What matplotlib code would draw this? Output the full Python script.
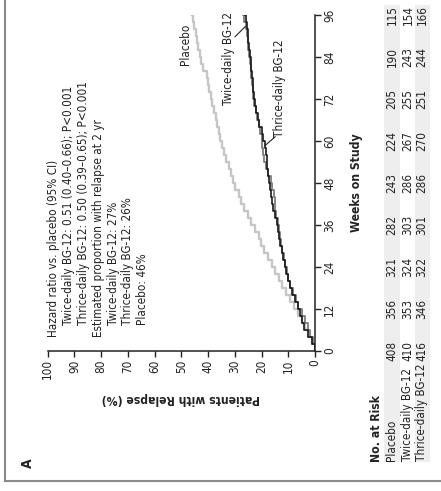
import matplotlib
matplotlib.use('agg')
import matplotlib.pyplot as plt
from matplotlib.patches import Rectangle
from matplotlib.lines import Line2D

plt.rcParams['font.family'] = ['DejaVu Sans']
plt.rcParams['font.stretch'] = 'condensed'

# weeks on study (x of the original chart)
weeks = [0, 2, 4, 6, 8, 10, 12, 14, 16, 18, 20, 22, 24, 26, 28, 30, 32, 34, 36, 38, 40, 42, 44, 46, 48,
         50, 52, 54, 56, 58, 60, 62, 64, 66, 68, 70, 72, 74, 76, 78, 80, 82, 84, 86, 88, 90, 92, 94, 96]
placebo = [0, 1.0, 2.5, 3.8, 5.0, 6.5, 8.0, 9.5, 11.0, 12.2, 13.6, 14.8, 16.2, 17.5, 19.0, 20.2, 21.0, 22.3, 24.0, 25.2,
           26.5, 27.8, 28.6, 29.8, 30.6, 31.5, 32.3, 33.2, 34.0, 34.8, 35.5, 36.0, 36.6, 37.2, 37.8, 38.4, 39.0, 39.5,
           40.0, 40.4, 41.8, 42.6, 43.0, 43.6, 44.1, 44.6, 45.2, 45.7, 46.2]
twice = [0, 0.8, 2.0, 2.8, 3.8, 5.0, 6.2, 7.2, 8.3, 9.3, 10.0, 10.6, 11.2, 11.7, 12.3, 12.8, 13.2, 13.6, 14.0, 14.5,
         14.9, 15.0, 15.4, 15.9, 16.5, 17.4, 18.3, 19.0, 19.4, 19.7, 20.0, 20.4, 21.0, 21.6, 22.2, 22.8, 23.1, 23.3,
         23.6, 23.8, 24.0, 24.3, 24.6, 24.9, 25.2, 25.6, 26.0, 26.5, 26.9]
thrice = [0, 1.0, 2.6, 4.0, 4.8, 5.6, 6.5, 7.4, 8.5, 9.4, 10.2, 10.8, 11.4, 11.9, 12.5, 13.0, 13.4, 13.9, 14.4, 15.0,
          15.6, 16.1, 16.4, 16.8, 17.2, 17.5, 17.8, 18.1, 18.4, 18.8, 19.3, 20.0, 20.8, 21.5, 22.0, 22.5, 22.9, 23.1,
          23.3, 23.6, 23.8, 24.0, 24.3, 24.6, 24.9, 25.2, 25.5, 25.8, 26.1]

risk_weeks = [0, 12, 24, 36, 48, 60, 72, 84, 96]
risk_rows = ['Placebo', 'Twice-daily BG-12', 'Thrice-daily BG-12']
risk_placebo = [408, 356, 321, 282, 243, 224, 205, 190, 115]
risk_twice = [410, 353, 324, 303, 286, 267, 255, 243, 154]
risk_thrice = [416, 346, 322, 301, 286, 270, 251, 244, 166]

info_lines = ['Hazard ratio vs. placebo (95% CI)',
              'Twice-daily BG-12: 0.51 (0.40\u20130.66); P<0.001',
              'Thrice-daily BG-12: 0.50 (0.39\u20130.65); P<0.001',
              'Estimated proportion with relapse at 2 yr',
              'Twice-daily BG-12: 27%',
              'Thrice-daily BG-12: 26%',
              'Placebo: 46%']

W, H = 441, 491
tc = '#222222'
fs = 8.4
fig = plt.figure(figsize=(W / 100, H / 100), dpi=100)

def fx(px):
    return px / W

def fy(py):
    return 1 - py / H

# chart drawn turned a quarter turn: percent runs right-to-left, weeks upward
ax = fig.add_axes([fx(47.7), fy(351), fx(315) - fx(47.7), fy(15) - fy(351)])
ax.step(placebo, weeks, where='pre', color='#c6c6c6', lw=1.7)
ax.step(twice, weeks, where='pre', color='#7d7d7d', lw=1.3)
ax.step(thrice, weeks, where='pre', color='#1a1a1a', lw=1.2)
ax.set_xlim(100, 0)
ax.set_ylim(0, 96)
ax.spines['left'].set_visible(False)
ax.spines['top'].set_visible(False)
for s in ['right', 'bottom']:
    ax.spines[s].set_linewidth(1.1)
    ax.spines[s].set_color(tc)
ax.yaxis.tick_right()
ax.yaxis.set_label_position('right')
ax.set_xticks(range(0, 101, 10))
ax.set_yticks(risk_weeks)
ax.tick_params(axis='x', direction='out', length=4, width=1, colors=tc, labelsize=fs, labelrotation=90, pad=2)
ax.tick_params(axis='y', direction='out', length=4, width=1, colors=tc, labelsize=fs, labelrotation=90, pad=2)
for lab in ax.get_yticklabels():
    lab.set_va('center')
ax.set_xlabel('Patients with Relapse (%)', rotation=180, fontsize=8.7, fontweight='bold', color=tc, labelpad=9)
ax.set_ylabel('Weeks on Study', rotation=90, fontsize=8.7, fontweight='bold', color=tc, labelpad=10)

# curve labels
ax.text(48.5, 81.6, 'Placebo', rotation=90, rotation_mode='anchor', ha='left', va='center', fontsize=fs, color=tc)
ax.text(32.5, 70.3, 'Twice-daily BG-12', rotation=90, rotation_mode='anchor', ha='left', va='center', fontsize=fs, color=tc)
ax.plot([29.9, 26.1], [89.8, 92.7], color=tc, lw=0.8)
ax.text(13.1, 61.1, 'Thrice-daily BG-12', rotation=90, rotation_mode='anchor', ha='left', va='center', fontsize=fs, color=tc)
ax.plot([14.9, 18.7], [61.2, 58.7], color=tc, lw=0.8)

# text block
info_x = [53, 68.5, 83.5, 98.5, 113.5, 128, 143]
info_y = [337, 325, 325, 337, 325, 325, 325]
for t, px, py in zip(info_lines, info_x, info_y):
    fig.text(fx(px), fy(py), t, rotation=90, rotation_mode='anchor', ha='left', va='center', fontsize=fs, color=tc)

# number at risk table
fig.add_artist(Rectangle((fx(384), fy(462)), fx(400) - fx(384), fy(5) - fy(462), transform=fig.transFigure,
                         facecolor='#eeeeee', edgecolor='none', zorder=0))
fig.add_artist(Rectangle((fx(415), fy(462)), fx(430) - fx(415), fy(5) - fy(462), transform=fig.transFigure,
                         facecolor='#eeeeee', edgecolor='none', zorder=0))
fig.text(fx(377), fy(462), 'No. at Risk', rotation=90, rotation_mode='anchor', ha='left', va='center',
         fontsize=8.7, fontweight='bold', color=tc)
row_x = [392, 408, 422]
for name, vals, px in zip(risk_rows, [risk_placebo, risk_twice, risk_thrice], row_x):
    fig.text(fx(px), fy(461), name, rotation=90, rotation_mode='anchor', ha='left', va='center', fontsize=fs, color=tc)
    for wk, v in zip(risk_weeks, vals):
        disp = ax.transData.transform((0, wk))
        yy = fig.transFigure.inverted().transform(disp)[1]
        fig.text(fx(px), yy, str(v), rotation=90, rotation_mode='anchor', ha='center', va='center',
                 fontsize=fs, color=tc)

fig.text(fx(28), fy(463), 'A', rotation=90, rotation_mode='anchor', ha='center', va='center',
         fontsize=10, fontweight='bold', color=tc)

# frame
fig.add_artist(Line2D([fx(5), fx(5)], [fy(0), fy(481)], transform=fig.transFigure, color='#8a8a8a', lw=1.5))
fig.add_artist(Line2D([fx(5), fx(441)], [fy(481), fy(481)], transform=fig.transFigure, color='#8a8a8a', lw=1.5))

fig.savefig('out.png', dpi=100, facecolor='white')
